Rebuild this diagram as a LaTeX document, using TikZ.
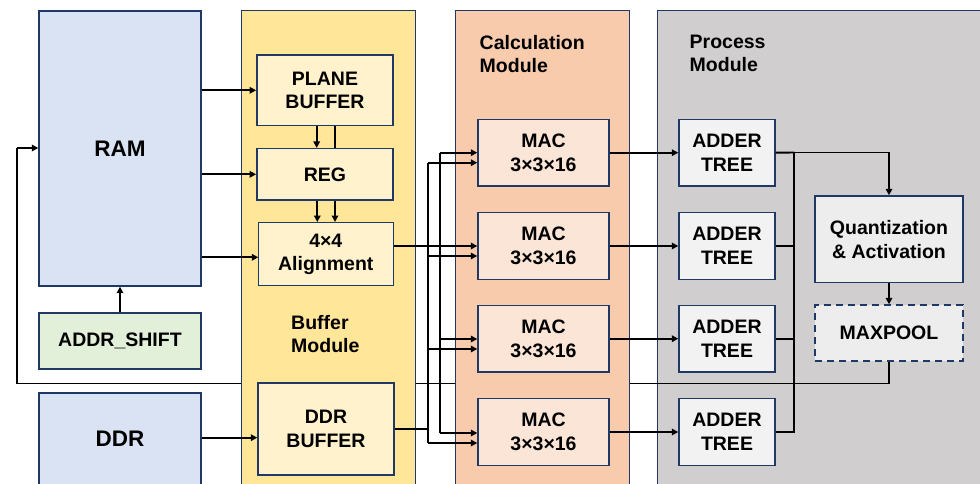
\documentclass[tikz,border=0pt]{standalone}
\usepackage{fontspec}
\setmainfont{Liberation Sans}
\usetikzlibrary{arrows.meta}
\definecolor{navy}{HTML}{203864}
\definecolor{ramblue}{HTML}{DAE3F3}
\definecolor{addrgreen}{HTML}{E2F0D9}
\definecolor{bufmod}{HTML}{FFE699}
\definecolor{bufbox}{HTML}{FFF2CC}
\definecolor{calcmod}{HTML}{F8CBAD}
\definecolor{macbox}{HTML}{FBE5D6}
\definecolor{procmod}{HTML}{D0CECE}
\definecolor{adderbox}{HTML}{F2F2F2}
\definecolor{quantbox}{HTML}{EDEDED}
\begin{document}
\begin{tikzpicture}[x=1pt,y=-1pt,
  box/.style={draw=navy, line width=1.4pt, align=center, inner sep=0pt,
    font=\bfseries\fontsize{19.5}{23.5}\selectfont},
  bigbox/.style={box, font=\bfseries\fontsize{22.5}{26}\selectfont},
  module/.style={draw=navy, line width=1pt},
  modlabel/.style={align=left, inner sep=0pt, anchor=north west,
    font=\bfseries\fontsize{19.5}{23}\selectfont},
  conn/.style={line width=1.9pt, black},
  arr/.style={conn, -{Triangle[length=6.5pt,width=6.5pt]}},
]
\useasboundingbox (0,0) rectangle (980,484);
\clip (0,0) rectangle (980,484);

% process module background
\draw[module, fill=procmod] (657,11) rectangle (995,495);

% MAXPOOL feedback path (under buffer/calc modules)
\node[box, fill=quantbox, dashed, dash pattern=on 7pt off 5pt, minimum width=148pt, minimum height=56pt] (mp) at (889,333) {MAXPOOL};
\coordinate (fbA) at (889,383.5);
\coordinate (fbB) at (17,383.5);
\coordinate (fbC) at (17,148);
\node[bigbox, fill=ramblue, minimum width=162pt, minimum height=275pt] (ram) at (120,148.5) {RAM};
\draw[conn] (mp.south) -- (fbA) -- (fbB) -- (fbC);

% buffer and calc module backgrounds
\draw[module, fill=bufmod] (241.7,11) rectangle (415,495);
\draw[module, fill=calcmod] (455,11) rectangle (629,495);

\node[modlabel] (lbuf) at (291,315.5) {Buffer\\Module};
\node[modlabel] (lcalc) at (479.5,35) {Calculation\\Module};
\node[modlabel] (lproc) at (689.5,35) {Process\\Module};

% left column
\draw[arr] (fbC) -- (fbC -| ram.west);
\node[box, fill=addrgreen, minimum width=162pt, minimum height=56pt] (addr) at (120,341) {ADDR\_SHIFT};
\node[bigbox, fill=ramblue, minimum width=162pt, minimum height=92pt] (ddr) at (120,439) {DDR};

% buffer module boxes
\node[box, fill=bufbox, minimum width=136.3pt, minimum height=70.7pt] (pb) at (325,90.3) {PLANE\\BUFFER};
\node[box, fill=bufbox, minimum width=136.3pt, minimum height=51.3pt] (reg) at (325,174.3) {REG};
\node[box, fill=bufbox, minimum width=135pt, minimum height=63pt] (al) at (325.8,254.2) {4×4\\Alignment};
\node[box, fill=bufbox, minimum width=136pt, minimum height=92pt] (db) at (326,429) {DDR\\BUFFER};

% MAC boxes
\foreach \i/\y in {1/152.7,2/246,3/338.7,4/432}{
  \node[box, fill=macbox, minimum width=131pt, minimum height=66.7pt] (mac\i) at (543.5,\y) {MAC\\3×3×16};
  \node[box, fill=adderbox, minimum width=96pt, minimum height=66.7pt] (add\i) at (727,\y) {ADDER\\TREE};
}
\node[box, fill=quantbox, minimum width=148pt, minimum height=86.7pt] (q) at (889,239.3) {Quantization\\\& Activation};

% RAM / DDR connections
\draw[arr] (ram.east |- pb.west) -- (pb.west);
\draw[arr] (ram.east |- reg.west) -- (reg.west);
\coordinate (alin) at (258.3,257.3);
\draw[arr] (ram.east |- alin) -- (alin);
\draw[arr] (addr.north) -- (ram.south -| addr.north);
\draw[arr] (ddr.east |- 0,437.7) -- (db.west |- 0,437.7);

% buffer internal
\draw[arr] (pb.south -| 316.7,0) -- (reg.north -| 316.7,0);
\draw[conn] (reg.north -| 335,0) -- (pb.south -| 335,0);
\draw[arr] (reg.south -| 317.3,0) -- (al.north -| 317.3,0);
\draw[arr] (reg.south -| 335,0) -- (al.north -| 335,0);

% bus from alignment (x=440) and DDR buffer (x=428)
\coordinate (busA1) at (440,152.7);
\coordinate (busA4) at (440,433);
\coordinate (busD1) at (428,162.7);
\coordinate (busD4) at (428,443);
\draw[conn] (busA1) -- (busA4);
\draw[conn] (busD1) -- (busD4);
\draw[arr] (al.east |- mac2.west) -- (mac2.west);
\draw[conn] (db.east |- 0,429.3) -- (428,429.3);
\draw[arr] (busA1) -- (mac1.west |- busA1);
\draw[arr] (busD1) -- (mac1.west |- busD1);
\draw[arr] (428,256) -- (mac2.west |- 0,256);
\draw[arr] (440,339) -- (mac3.west |- 0,339);
\draw[arr] (428,349) -- (mac3.west |- 0,349);
\draw[arr] (busA4) -- (mac4.west |- busA4);
\draw[arr] (busD4) -- (mac4.west |- busD4);

% MAC -> adder
\foreach \i in {1,2,3,4}{
  \draw[arr] (mac\i.east) -- (add\i.west);
}
% adder collection
\coordinate (col1) at (794.3,152.5);
\coordinate (col4) at (794.3,432);
\draw[conn] (add1.east) -- (col1);
\draw[conn] (col1) -- (col4 |- add4.east) -- (add4.east);
\draw[conn] (add2.east) -- (col1 |- add2.east);
\draw[conn] (add3.east) -- (col1 |- add3.east);
\draw[arr] (col1) -- (q.north |- col1) -- (q.north);
\draw[arr] (q.south) -- (mp.north);
\end{tikzpicture}
\end{document}
